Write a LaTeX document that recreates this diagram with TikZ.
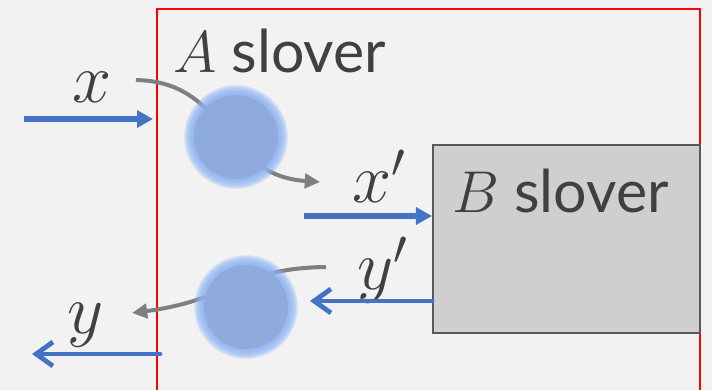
\documentclass[tikz,border=0pt]{standalone}
\usepackage{fix-cm}
\usepackage{fontspec}
\setmainfont{Lato}
\usepackage{tikz}
\usetikzlibrary{arrows.meta}
\usepackage{xcolor}
\definecolor{bgc}{HTML}{F2F2F2}
\definecolor{txt}{HTML}{404040}
\definecolor{flow}{HTML}{4472C4}
\definecolor{pass}{HTML}{7F7F7F}
\definecolor{ballc}{HTML}{8FAADC}
\definecolor{glowc}{HTML}{8DB4F2}
\definecolor{boxc}{HTML}{D0CECE}
\definecolor{boxl}{HTML}{595959}

\begin{document}
\begin{tikzpicture}[x=0.25mm,y=-0.25mm,line cap=round,
  lbl/.style={text=txt,inner sep=0pt,anchor=base west,font=\fontsize{50}{56}\selectfont},
  title/.style={text=txt,inner sep=0pt,anchor=base west,font=\fontsize{42}{48}\selectfont},
  ball/.style={circle,fill=ballc,minimum size=21mm,inner sep=0pt},
  solver/.style={draw=boxl,line width=0.5mm,fill=boxc,minimum width=66.75mm,minimum height=47mm,inner sep=0pt},
  inarrow/.style={flow,line width=1.3mm,line cap=butt,-{Triangle[length=4mm,width=4.2mm]}},
  outarrow/.style={flow,line width=1.2mm,-{Straight Barb[length=4.2mm,width=6mm]}},
  passarrow/.style={pass,line width=1mm,line cap=butt,-{Triangle[length=3.8mm,width=3.6mm]}}]
\fill[bgc] (0,0) rectangle (712,390);
\clip (0,0) rectangle (712,390);
\draw[red,line width=0.65mm] (157,9) rectangle (700,430);
\draw[passarrow] (136,80) .. controls (230,82) and (220,175) .. (320,182);
\draw[passarrow] (326,267) .. controls (240,268) and (230,300) .. (132,313);
\foreach \p in {(236,137),(246,307)}
  \foreach \r in {43,...,52}
    \fill[glowc,opacity=0.2] \p circle[radius=\r];
\node[ball] (ba) at (236,137) {};
\node[ball] (bb) at (246,307) {};
\node[solver] (bs) at (566.5,239) {};
\node[title] (at) at (173,73) {$A$ slover};
\node[title] (bt) at (452,213) {$B$ slover};
\node[lbl] (xl) at (72,103) {$x$};
\node[lbl] (xpl) at (352,203) {$x'$};
\node[lbl] (ypl) at (357,290) {$y'$};
\node[lbl] (yl) at (67,334) {$y$};
\coordinate (xs) at (24,119);
\coordinate (xe) at (153,119);
\coordinate (xps) at (304,216);
\coordinate (ype) at (310,301);
\coordinate (ys) at (160,354);
\coordinate (ye) at (32,354);
\draw[inarrow] (xs) -- (xe);
\draw[inarrow] (xps) -- (xps -| bs.west);
\draw[outarrow] (ype -| bs.west) -- (ype);
\draw[outarrow] (ys) -- (ye);
\end{tikzpicture}
\end{document}
